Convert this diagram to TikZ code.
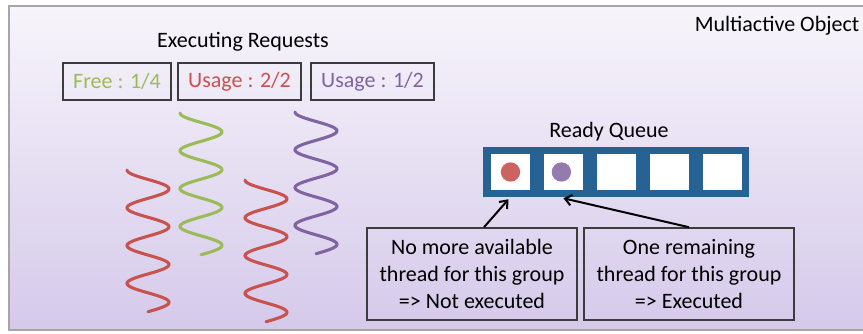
\documentclass[tikz,border=0pt]{standalone}
\usepackage{fontspec}
\setmainfont{Carlito}
\usetikzlibrary{arrows.meta,calc}

\definecolor{reqgreen}{RGB}{155,187,89}
\definecolor{reqred}{RGB}{200,82,78}
\definecolor{reqpurple}{RGB}{128,100,162}
\definecolor{qblue}{RGB}{38,98,148}
\definecolor{bgtop}{RGB}{247,245,251}
\definecolor{bgbottom}{RGB}{213,201,234}
\definecolor{boxgray}{RGB}{60,60,60}

\begin{document}
\begin{tikzpicture}[x=0.75pt,y=-0.75pt,
  txt/.style={font=\fontsize{16.5}{20}\selectfont},
  countbox/.style={txt,draw=boxgray,line width=1.2pt,minimum height=27.75pt,inner sep=0pt},
  notebox/.style={txt,draw=boxgray,line width=1.2pt,minimum width=157.5pt,minimum height=69pt,align=center,inner sep=0pt},
  cell/.style={fill=white,minimum width=29.25pt,minimum height=27pt,inner sep=0pt},
  dot/.style={circle,minimum size=14.5pt,inner sep=0pt},
  thread/.style={line width=2.3pt,line cap=round},
  arr/.style={-{Straight Barb[length=5pt,width=8pt]},line width=1.5pt}]
  \useasboundingbox (0,0) rectangle (863,333);
  % background of the object
  \shade[top color=bgtop,bottom color=bgbottom] (9,6) rectangle (880,330);
  \draw[gray!70,line width=0.8pt] (880,6) -- (9,6) -- (9,330) -- (880,330);
  \node[txt] (title) at (777,26) {Multiactive Object};

  % executing requests
  \node[txt] (exec) at (243,42) {Executing Requests};
  \node[countbox,minimum width=81pt,text=reqgreen] (free) at (117,81.5) {Free : 1/4};
  \node[countbox,minimum width=92.25pt,text=reqred] (usered) at (239.5,81.5) {Usage : 2/2};
  \node[countbox,minimum width=92.25pt,text=reqpurple] (usepurple) at (372.5,81.5) {Usage : 1/2};
  \foreach \xc/\yt/\col in {148/170/reqred, 201/113/reqgreen, 266/180/reqred, 316/112/reqpurple}
    \draw[thread,\col] plot[domain=0:1350,samples=140,smooth] ({\xc-21*cos(\x)},{\yt+\x*0.105});

  % ready queue
  \node[txt] (ready) at (609,132) {Ready Queue};
  \node[fill=qblue,minimum width=199.5pt,minimum height=37.5pt,inner sep=0pt] (queue) at (616,172) {};
  \foreach \i in {1,...,5}
    \node[cell] (c\i) at ({510.5+52.9*(\i-1)},172) {};
  \node[dot,fill=reqred!90!white] (d1) at (c1) {};
  \node[dot,fill=reqpurple!85!white] (d2) at ($(c2)+(-2,0)$) {};

  % notes
  \node[notebox] (no) at (472,274) {No more available\\thread for this group\\=> Not executed};
  \node[notebox] (yes) at (689,274) {One remaining\\thread for this group\\=> Executed};
  \draw[arr] ($(no.north)+(12,0)$) -- ($(queue.south -| c1)+(-2,2)$);
  \draw[arr] (yes.north) -- ($(queue.south -| c2)+(0,1)$);
\end{tikzpicture}
\end{document}
